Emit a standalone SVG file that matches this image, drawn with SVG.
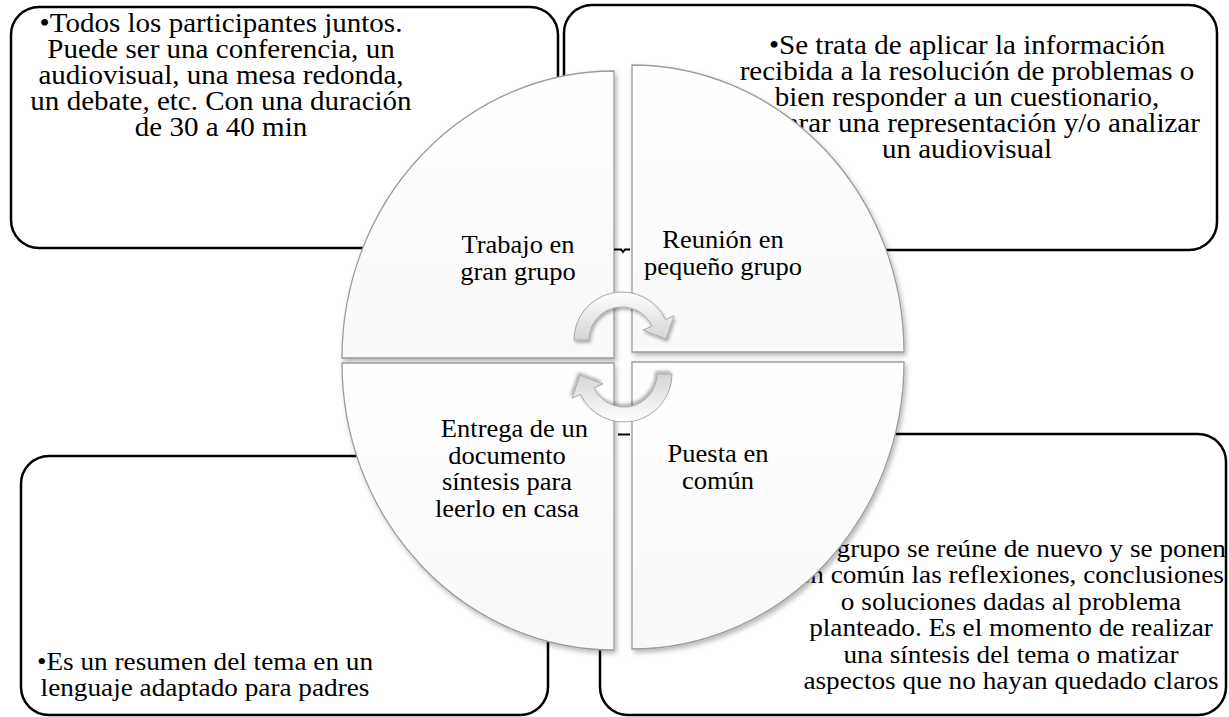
<svg xmlns="http://www.w3.org/2000/svg" width="1229" height="717" viewBox="0 0 1229 717">
<style>
.box{fill:#fff;stroke:#000;stroke-width:2.5}
.t{font-family:"Liberation Serif","Times New Roman",serif;font-size:25px;fill:#000;text-anchor:middle}
.big{font-size:27.4px}
.mid{font-size:25.7px}
.q{fill:url(#qg);stroke:#9c9c9c;stroke-width:1.3;filter:url(#sh)}
.arr{fill:url(#ag);stroke:#a8a8a8;stroke-width:1;filter:url(#sh2)}
.tick{stroke:#000;stroke-width:2;fill:none}
</style>
<defs>
<linearGradient id="qg" x1="0" y1="0" x2="0" y2="1">
<stop offset="0" stop-color="#ffffff"/><stop offset="1" stop-color="#f9f9f9"/>
</linearGradient>
<linearGradient id="ag" x1="0" y1="0" x2="0" y2="1">
<stop offset="0" stop-color="#ffffff"/><stop offset="1" stop-color="#d4d4d4"/>
</linearGradient>
<filter id="sh" x="-10%" y="-10%" width="125%" height="125%">
<feDropShadow dx="2" dy="3" stdDeviation="2.5" flood-color="#000" flood-opacity="0.28"/>
</filter>
<filter id="sh2" x="-20%" y="-20%" width="150%" height="150%">
<feDropShadow dx="1.5" dy="2.5" stdDeviation="1.5" flood-color="#000" flood-opacity="0.3"/>
</filter>
</defs>
<rect width="1229" height="717" fill="#fff"/>

<g id="box-gran-grupo">
<rect class="box" x="11" y="7" width="547" height="241" rx="28" ry="28"/>
<g transform="matrix(1.06 0 0 1 -13.26 0)">
<text class="t big" x="221" y="32">•Todos los participantes juntos.</text>
<text class="t big" x="221" y="58">Puede ser una conferencia, un</text>
<text class="t big" x="221" y="84">audiovisual, una mesa redonda,</text>
<text class="t big" x="221" y="110">un debate, etc. Con una duración</text>
<text class="t big" x="221" y="136">de 30 a 40 min</text>
</g>
</g>
<g id="box-pequeno-grupo">
<rect class="box" x="564" y="5" width="653" height="245" rx="28" ry="28"/>
<g transform="matrix(1.06 0 0 1 -58.02 0)">
<text class="t big" x="967" y="54">•Se trata de aplicar la información</text>
<text class="t big" x="967" y="80">recibida a la resolución de problemas o</text>
<text class="t big" x="967" y="106">bien responder a un cuestionario,</text>
<text class="t big" x="967" y="132">preparar una representación y/o analizar</text>
<text class="t big" x="967" y="158">un audiovisual</text>
</g>
</g>
<g id="box-documento">
<rect class="box" x="21" y="456" width="527" height="259" rx="28" ry="28"/>
<g transform="matrix(1.06 0 0 1 -12.3 0)">
<text class="t mid" x="205" y="670">•Es un resumen del tema en un</text>
<text class="t mid" x="205" y="696">lenguaje adaptado para padres</text>
</g>
</g>
<g id="box-puesta">
<rect class="box" x="600" y="434" width="626" height="281" rx="28" ry="28"/>
<g transform="matrix(1.06 0 0 1 -60.66 0)">
<text class="t mid" x="1011" y="557">•El grupo se reúne de nuevo y se ponen</text>
<text class="t mid" x="1011" y="583">en común las reflexiones, conclusiones</text>
<text class="t mid" x="1011" y="610">o soluciones dadas al problema</text>
<text class="t mid" x="1011" y="636">planteado. Es el momento de realizar</text>
<text class="t mid" x="1011" y="663">una síntesis del tema o matizar</text>
<text class="t mid" x="1011" y="689">aspectos que no hayan quedado claros</text>
</g>
</g>

<path d="M612,62 H634 V652 H612 Z M340,356 H906 V365 H340 Z" fill="#fff"/>

<g id="q-trabajo">
<path class="q" d="M614,358 L342,358 A272,287 0 0 1 614,71 Z"/>
<g transform="matrix(1.06 0 0 1 -31.08 0)">
<text class="t" x="518" y="253">Trabajo en</text>
<text class="t" x="518" y="280">gran grupo</text>
</g>
</g>
<g id="q-reunion">
<path class="q" d="M632,352 L632,65 A272,287 0 0 1 904,352 Z"/>
<g transform="matrix(1.06 0 0 1 -43.38 0)">
<text class="t" x="723" y="248">Reunión en</text>
<text class="t" x="723" y="275">pequeño grupo</text>
</g>
</g>
<g id="q-entrega">
<path class="q" d="M614,363 L614,650 A272,287 0 0 1 342,363 Z"/>
<g transform="matrix(1.06 0 0 1 -30.42 0)">
<text class="t" x="514" y="437">Entrega de un</text>
<text class="t" x="507" y="464">documento</text>
<text class="t" x="507" y="490">síntesis para</text>
<text class="t" x="507" y="517">leerlo en casa</text>
</g>
</g>
<g id="q-puesta">
<path class="q" d="M632,362 L904,362 A272,287 0 0 1 632,649 Z"/>
<g transform="matrix(1.06 0 0 1 -43.08 0)">
<text class="t" x="718" y="462">Puesta en</text>
<text class="t" x="718" y="489">común</text>
</g>
</g>

<g id="connectors">
<path class="tick" d="M614,249.5 H621 L623,252 L625,249.5 H630"/>
<path class="tick" d="M618,434.5 H630"/>
<path class="arr" d="M574,340 A48,48 0 0 1 665.5,319.7 L674,315.7 L666,339 L643,330.2 L651.9,326 A33,33 0 0 0 589,340 Z"/>
<path class="arr" transform="rotate(180 623 357)" d="M574,340 A48,48 0 0 1 665.5,319.7 L674,315.7 L666,339 L643,330.2 L651.9,326 A33,33 0 0 0 589,340 Z"/>
</g>
</svg>
